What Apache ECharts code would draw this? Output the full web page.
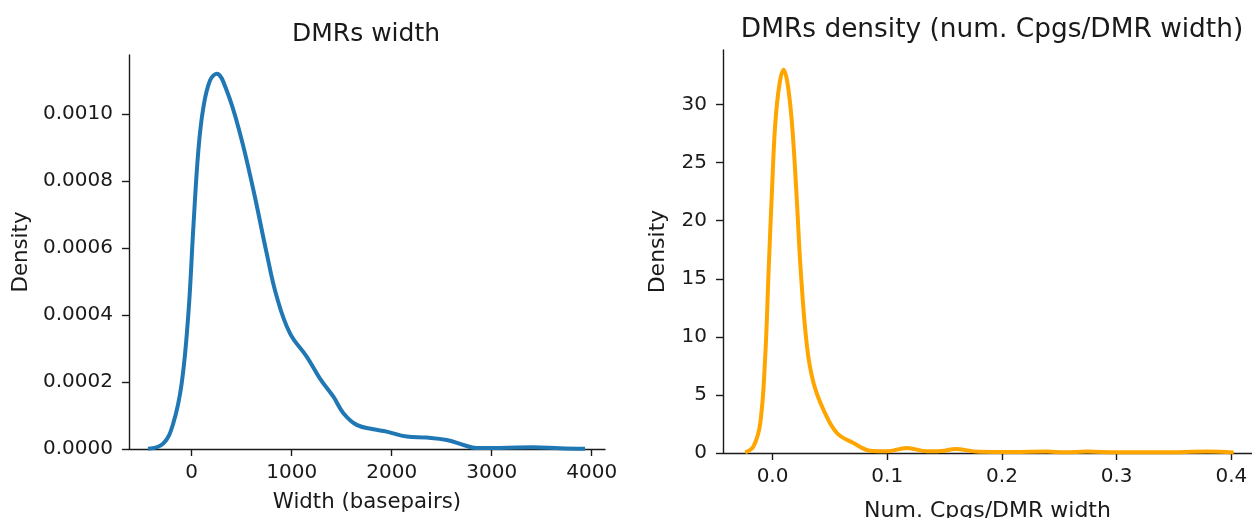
<!DOCTYPE html>
<html lang="en">
<head>
<meta charset="UTF-8">
<title>DMRs</title>
<script src="https://cdn.jsdelivr.net/npm/echarts@6/dist/echarts.min.js"></script>
<style>
  html, body { margin: 0; padding: 0; background: #fff; }
  #chart { width: 1252px; height: 518px; }
</style>
</head>
<body>
<div id="chart"></div>
<script>
// left panel: KDE of DMR width (basepairs)
var widthX = [-437, -283, -184, -100, -33, 17, 67, 117, 183, 250, 350, 483, 617, 750, 850, 983,
  1150, 1283, 1417, 1517, 1650, 1817, 1950, 2150, 2350, 2550, 2717, 2850, 3083, 3417, 3683, 3933];
var widthY = [0.0000005, 0.000017, 0.000077, 0.000196, 0.000405, 0.000664, 0.000893, 0.00102, 0.0011,
  0.00112, 0.00107, 0.000942, 0.000773, 0.000584, 0.000455, 0.000345, 0.000276, 0.000210, 0.000156,
  0.000107, 0.000072, 0.000059, 0.000052, 0.000037, 0.000034, 0.000027, 0.000012, 0.000003, 0.000003,
  0.0000055, 0.000002, 0.0000005];

// right panel: KDE of CpG density (num. CpGs / DMR width)
var densX = [-0.0238, -0.0166, -0.0107, -0.0064, -0.0035, -0.0005, 0.0024, 0.0061, 0.0096, 0.0131,
  0.0169, 0.0207, 0.0247, 0.030, 0.0358, 0.0445, 0.0561, 0.0706, 0.0852, 0.0997, 0.117, 0.1346,
  0.150, 0.159, 0.180, 0.210, 0.239, 0.255, 0.274, 0.300, 0.340, 0.379, 0.402];
var densY = [0.05, 0.57, 2.58, 8.3, 15.5, 22.6, 28.4, 31.8, 33.0, 31.8, 28.4, 22.6, 15.5, 9.2, 6.0,
  3.7, 1.72, 0.86, 0.2, 0.15, 0.43, 0.15, 0.2, 0.35, 0.1, 0.08, 0.12, 0.06, 0.12, 0.06, 0.06, 0.12, 0.05];

var widthTicksX = [0, 1000, 2000, 3000, 4000];
var widthTicksY = [0, 0.0002, 0.0004, 0.0006, 0.0008, 0.0010];
var densTicksX = [0, 0.1, 0.2, 0.3, 0.4];
var densTicksY = [0, 5, 10, 15, 20, 25, 30];

function pairs(xs, ys) {
  return xs.map(function (x, i) { return [x, ys[i]]; });
}

var ink = '#1a1a1a';
var font = 'DejaVu Sans';

function axisBase(ticks, fmt, nameText, gap, isY, nameSize) {
  return {
    type: 'value',
    name: nameText,
    nameLocation: 'middle',
    nameGap: gap,
    nameTextStyle: { color: ink, fontSize: nameSize, fontFamily: font },
    axisLine: { show: true, onZero: false, lineStyle: { color: ink, width: 1.4 } },
    axisTick: { show: true, length: 7, lineStyle: { color: ink, width: 1.4 }, customValues: ticks },
    axisLabel: { color: ink, fontSize: 20, fontFamily: font, margin: isY ? 16 : 14,
      customValues: ticks, formatter: fmt },
    splitLine: { show: false }
  };
}

var chart = echarts.init(document.getElementById('chart'));

var xLeft = axisBase(widthTicksX, function (v) { return String(v); }, 'Width (basepairs)', 43, false, 21.3);
xLeft.min = -627; xLeft.max = 4133; xLeft.gridIndex = 0;
var yLeft = axisBase(widthTicksY, function (v) { return v.toFixed(4); }, 'Density', 97, true, 21.3);
yLeft.min = 0; yLeft.max = 0.001176; yLeft.gridIndex = 0;

var xRight = axisBase(densTicksX, function (v) { return v.toFixed(1); }, 'Num. Cpgs/DMR width', 47, false, 22);
xRight.min = -0.0432; xRight.max = 0.418; xRight.gridIndex = 1;
var yRight = axisBase(densTicksY, function (v) { return String(v); }, 'Density', 54, true, 22);
yRight.min = 0; yRight.max = 34.7; yRight.gridIndex = 1;

chart.setOption({
  animation: false,
  backgroundColor: '#ffffff',
  title: [
    { text: 'DMRs width', left: 361, top: 17, textAlign: 'center',
      textStyle: { color: ink, fontSize: 25, fontWeight: 'normal', fontFamily: font } },
    { text: 'DMRs density (num. Cpgs/DMR width)', left: 987, top: 12, textAlign: 'center',
      textStyle: { color: ink, fontSize: 26.4, fontWeight: 'normal', fontFamily: font } }
  ],
  grid: [
    { left: 129, top: 55, width: 476, bottom: 69, containLabel: false, outerBoundsMode: 'none' },
    { left: 723, top: 50, right: 0, bottom: 65, containLabel: false, outerBoundsMode: 'none' }
  ],
  xAxis: [xLeft, xRight],
  yAxis: [yLeft, yRight],
  series: [
    {
      type: 'line', xAxisIndex: 0, yAxisIndex: 0,
      data: pairs(widthX, widthY),
      smooth: 0.4, showSymbol: false,
      lineStyle: { color: '#1f77b4', width: 4 }
    },
    {
      type: 'line', xAxisIndex: 1, yAxisIndex: 1,
      data: pairs(densX, densY),
      smooth: 0.4, showSymbol: false,
      lineStyle: { color: '#ffa500', width: 4 }
    }
  ]
});
</script>
</body>
</html>
